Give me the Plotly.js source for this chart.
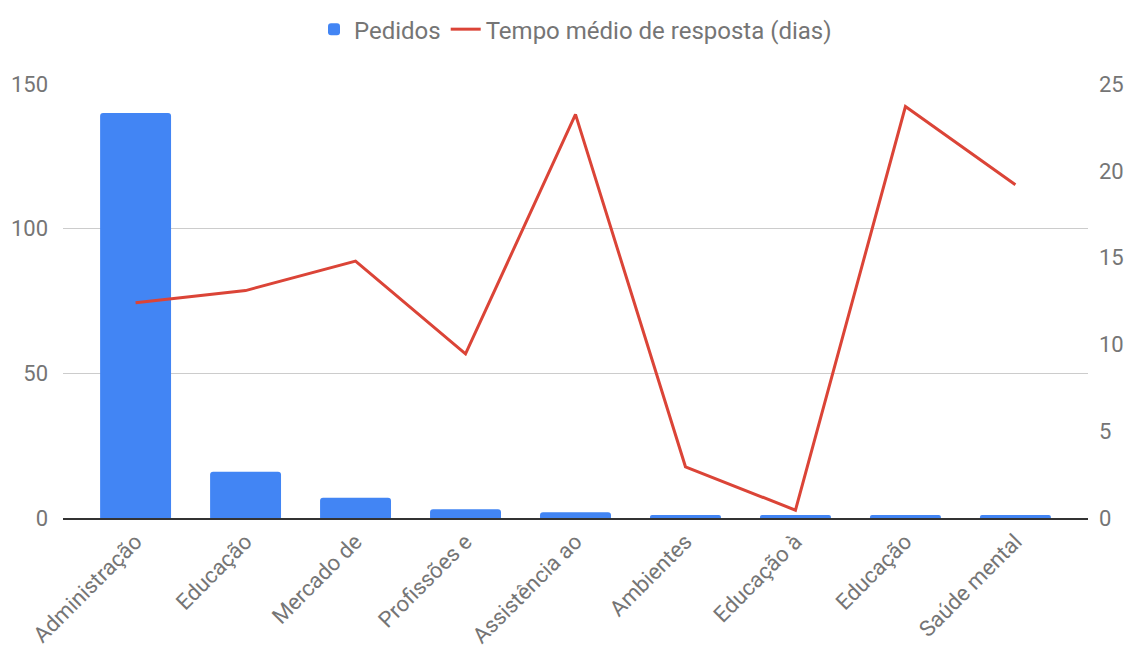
<!DOCTYPE html>
<html>
<head>
<meta charset="utf-8">
<script src="https://cdn.plot.ly/plotly-3.0.1.min.js"></script>
<style>body{margin:0;background:#fff}#chart{width:1133px;height:657px}</style>
</head>
<body>
<div id="chart"></div>
<script>
var categorias = ['Administração', 'Educação', 'Mercado de', 'Profissões e', 'Assistência ao',
                  'Ambientes', 'Educação à', 'Educação', 'Saúde mental'];
var posicoes = [0, 1, 2, 3, 4, 5, 6, 7, 8];
var pedidos = [140, 16, 7, 3, 2, 1, 1, 1, 1];
var tempoMedio = [12.4, 13.1, 14.8, 9.45, 23.25, 2.95, 0.45, 23.7, 19.2];

var trace1 = {
    x: posicoes,
    y: pedidos,
    type: 'bar',
    name: 'Pedidos',
    width: 0.645,
    marker: {color: '#4285f4', cornerradius: 3},
    hoverinfo: 'y'
};

var trace2 = {
    x: posicoes,
    y: tempoMedio,
    type: 'scatter',
    mode: 'lines',
    name: 'Tempo médio de resposta (dias)',
    yaxis: 'y2',
    line: {color: '#db4437', width: 3}
};

var fonte = {family: 'Roboto, sans-serif', size: 22, color: '#757575'};

var layout = {
    width: 1133,
    height: 657,
    margin: {l: 63, r: 45, t: 84, b: 139},
    font: fonte,
    showlegend: true,
    legend: {
        orientation: 'h',
        x: 0.5, xanchor: 'center',
        yref: 'container', y: 0.955, yanchor: 'middle',
        font: {family: 'Roboto, sans-serif', size: 24, color: '#757575'},
        itemwidth: 30,
        traceorder: 'normal'
    },
    xaxis: {
        range: [-0.66, 8.66],
        tickvals: posicoes,
        ticktext: categorias,
        tickangle: -45,
        showgrid: false,
        zeroline: false,
        showline: true,
        linecolor: '#333',
        linewidth: 2,
        ticks: '',
        tickfont: fonte
    },
    yaxis: {
        range: [0, 150],
        dtick: 50,
        gridcolor: '#cccccc',
        zeroline: false,
        ticks: '',
        ticklabelstandoff: 14,
        tickfont: fonte
    },
    yaxis2: {
        range: [0, 25],
        dtick: 5,
        overlaying: 'y',
        side: 'right',
        showgrid: false,
        zeroline: false,
        ticks: '',
        ticklabelstandoff: 10,
        tickfont: fonte
    },
    plot_bgcolor: '#fff',
    paper_bgcolor: '#fff'
};

Plotly.newPlot('chart', [trace1, trace2], layout, {displayModeBar: false});
</script>
</body>
</html>
